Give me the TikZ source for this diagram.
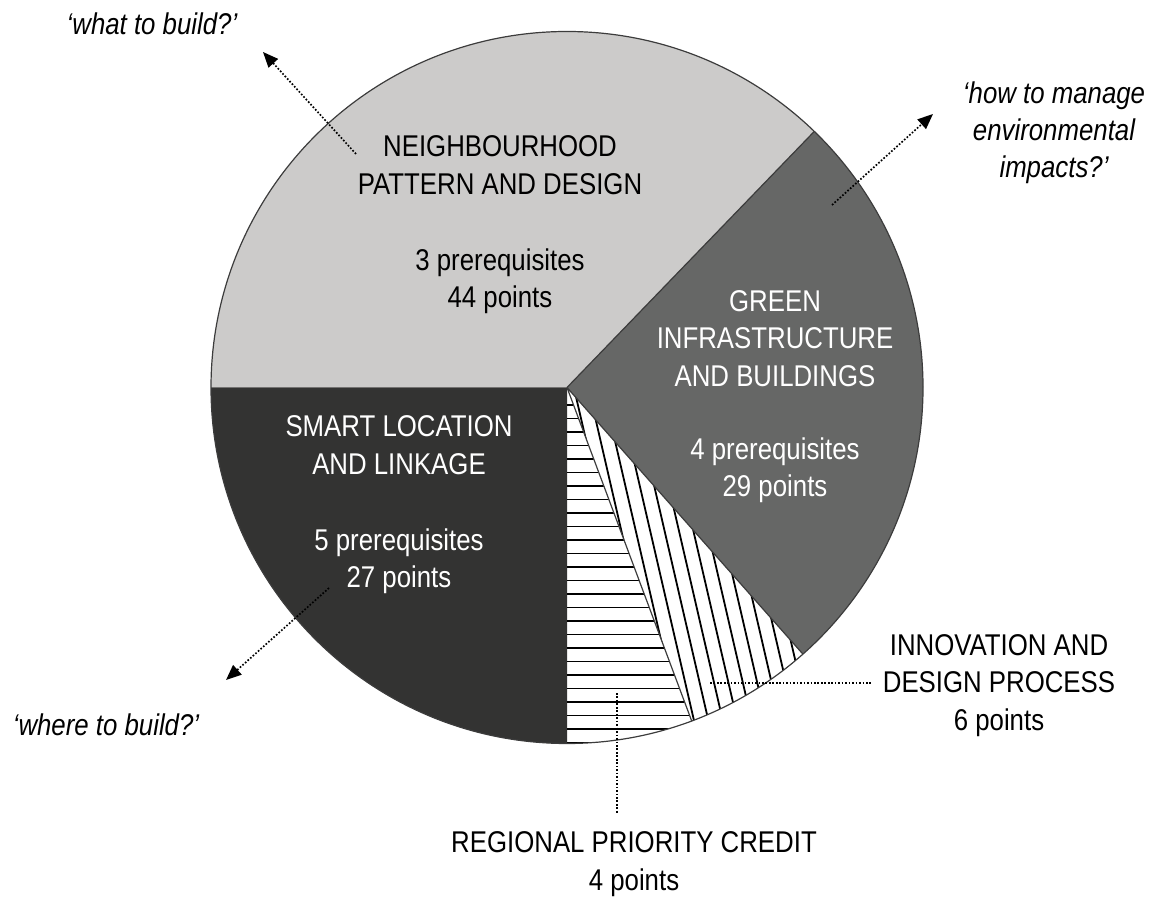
\documentclass[tikz,border=0pt]{standalone}
\usepackage{fontspec}
\setmainfont{Liberation Sans}[FakeStretch=0.86]
\usetikzlibrary{arrows.meta}
\definecolor{lightg}{HTML}{CCCBCA}
\definecolor{midg}{HTML}{666766}
\definecolor{darkg}{HTML}{333332}
\definecolor{edgeg}{HTML}{3C3C3C}
\tikzset{
  lbl/.style={font=\fontsize{22.5}{28.1}\selectfont, align=center, inner sep=0pt, anchor=base},
  lblw/.style={lbl, text=white},
  ital/.style={lbl, font=\fontsize{22.5}{28.1}\selectfont\itshape},
  dots/.style={line width=1.25pt, dash pattern=on 1.25pt off 1.35pt},
  arr/.style={dots, -{Triangle[length=11.5pt,width=9.5pt]}},
  edge/.style={draw=edgeg, line width=0.9pt},
  hatchh/.style={line width=0.95pt, black},
  hatchd/.style={line width=1.35pt, black},
}
\begin{document}
\begin{tikzpicture}[x=0.75pt,y=0.75pt]
\useasboundingbox (0,0) rectangle (1159,896);
\def\rr{356}
\begin{scope}[shift={(567,508.5)}]
  \fill[lightg] (0,0) -- (46:\rr) arc[start angle=46,end angle=180,radius=\rr] -- cycle;
  \fill[darkg] (0,0) -- (180:\rr) arc[start angle=180,end angle=270,radius=\rr] -- cycle;
  \fill[midg] (0,0) -- (-48.5:\rr) arc[start angle=-48.5,end angle=46,radius=\rr] -- cycle;
  \begin{scope}
    \clip (0,0) -- (270:\rr) arc[start angle=270,end angle=290.5,radius=\rr] -- cycle;
    \foreach \k in {0,...,26} \draw[hatchh] (-5,{-17.5-13.5*\k}) -- (200,{-17.5-13.5*\k});
  \end{scope}
  \begin{scope}
    \clip (0,0) -- (290.5:\rr) arc[start angle=290.5,end angle=311.5,radius=\rr] -- cycle;
    \foreach \k in {-25,...,25} \draw[hatchd] ({113+14.4*\k-0.231*420},147.5) -- ({113+14.4*\k+0.231*150},-422.5);
  \end{scope}
  \draw[edge] (0,0) -- (46:\rr) (0,0) -- (-48.5:\rr) (0,0) -- (290.5:\rr);
  \draw[edge] (0,0) circle[radius=\rr];
\end{scope}

\node[lbl] (nbh) at (500,588) {NEIGHBOURHOOD\\PATTERN AND DESIGN\\[29pt]3 prerequisites\\44 points};
\node[lblw] (gib) at (775,399) {GREEN\\INFRASTRUCTURE\\AND BUILDINGS\\[27pt]4 prerequisites\\29 points};
\node[lblw] (sll) at (399,308) {SMART LOCATION\\AND LINKAGE\\[29pt]5 prerequisites\\27 points};
\node[lbl] (idp) at (999,166) {INNOVATION AND\\DESIGN PROCESS\\6 points};
\node[lbl] (rpc) at (634,6) {REGIONAL PRIORITY CREDIT\\4 points};
\node[ital] (q1) at (152,861) {‘what to build?’};
\node[ital] (q2) at (1054,718) {‘how to manage\\environmental\\impacts?’};
\node[ital] (q3) at (106,161) {‘where to build?’};

\coordinate (a1s) at (356,742); \coordinate (a1e) at (263,844);
\coordinate (a2s) at (832,691); \coordinate (a2e) at (933,782);
\coordinate (a3s) at (329,308); \coordinate (a3e) at (226,216);
\coordinate (l1s) at (710,213); \coordinate (l1e) at (872,213);
\coordinate (l2s) at (617,203); \coordinate (l2e) at (617,82);
\draw[arr] (a1s) -- (a1e);
\draw[arr] (a2s) -- (a2e);
\draw[arr] (a3s) -- (a3e);
\draw[dots] (l1s) -- (l1e);
\draw[dots] (l2s) -- (l2e);
\end{tikzpicture}
\end{document}
